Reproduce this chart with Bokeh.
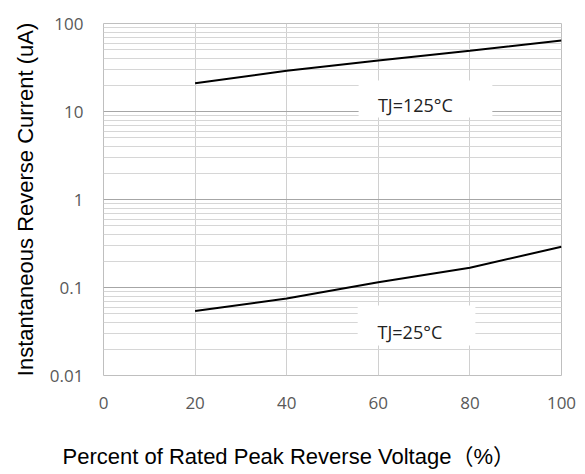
from bokeh.plotting import figure
from bokeh.models import FixedTicker, BoxAnnotation, Label, Title, LinearAxis
from bokeh.embed import file_html
from bokeh.resources import INLINE

# ---- data ----
voltage_pct = [20, 40, 60, 80, 100]
current_125c = [20.9, 29.0, 38.0, 49.0, 64.0]
current_25c = [0.054, 0.075, 0.115, 0.168, 0.29]

x_ticks = [0, 20, 40, 60, 80, 100]
y_ticks = [0.01, 0.1, 1, 10, 100]
y_tick_labels = ["0.01", "0.1", "1", "10", "100"]

label_125 = "TJ=125°C"
label_25 = "TJ=25°C"

x_title = "Percent of Rated Peak Reverse Voltage（%）"
y_title = "Instantaneous Reverse Current (uA)"

# ---- figure ----
p = figure(width=577, height=474, x_range=(0, 100), y_range=(0.01, 100),
           y_axis_type="log", output_backend="svg", toolbar_location=None,
           min_border_left=103, min_border_right=16, min_border_top=23,
           min_border_bottom=99)
p.background_fill_color = "white"
p.border_fill_color = "white"
p.outline_line_color = "#bfbfbf"
p.outline_line_width = 1

minor_y = [k * d for d in [0.01, 0.1, 1, 10] for k in range(2, 10)]

p.xaxis.ticker = FixedTicker(ticks=x_ticks)
p.yaxis.ticker = FixedTicker(ticks=y_ticks)
p.yaxis.major_label_overrides = {t: s for t, s in zip(y_ticks, y_tick_labels)}

p.xgrid.ticker = FixedTicker(ticks=x_ticks)
p.ygrid.ticker = FixedTicker(ticks=y_ticks, minor_ticks=minor_y)
p.xgrid.grid_line_color = "#d0d0d0"
p.ygrid.grid_line_color = "#a6a6a6"
p.ygrid.minor_grid_line_color = "#d6d6d6"
p.xgrid.grid_line_width = 1
p.ygrid.grid_line_width = 1

for ax in (p.xaxis[0], p.yaxis[0]):
    ax.axis_line_color = None
    ax.major_tick_line_color = None
    ax.minor_tick_line_color = None
    ax.major_tick_out = 0
    ax.major_tick_in = 0
    ax.minor_tick_out = 0
    ax.major_label_text_font = "Open Sans"
    ax.major_label_text_font_size = "17px"
    ax.major_label_text_color = "#595959"
    ax.axis_label_text_font = "Liberation Sans"
    ax.axis_label_text_font_size = "22px"
    ax.axis_label_text_font_style = "normal"
    ax.axis_label_text_color = "#000000"

p.yaxis.axis_label = y_title
p.xaxis.major_label_standoff = 21
p.yaxis.major_label_standoff = 20
p.yaxis.axis_label_standoff = 9

# spacer axis (white tick on white border): pushes the x title further down
spacer = LinearAxis(ticker=FixedTicker(ticks=[50]), axis_line_color=None,
                    major_tick_line_color="white", minor_tick_line_color=None,
                    major_tick_in=0, major_tick_out=28, minor_tick_out=0,
                    minor_tick_in=0, major_label_standoff=0,
                    major_label_text_font_size="1px",
                    major_label_overrides={50: ""})
p.add_layout(spacer, "below")

# x-axis title (left-shifted as in the reference)
p.add_layout(Title(text=x_title, align="left", offset=-41, standoff=4,
                   text_font="'Liberation Sans', 'Noto Sans CJK SC'",
                   text_font_size="22px", text_font_style="normal",
                   text_color="#000000"), "below")

p.line(voltage_pct, current_125c, line_color="black", line_width=2)
p.line(voltage_pct, current_25c, line_color="black", line_width=2)

# label boxes (white background behind text)
p.add_layout(BoxAnnotation(left=55.7, right=84.9, bottom=8.55, top=22.5,
                           fill_color="white", fill_alpha=1, line_color=None))
p.add_layout(BoxAnnotation(left=55.5, right=81.2, bottom=0.0219, top=0.0624,
                           fill_color="white", fill_alpha=1, line_color=None))
p.add_layout(Label(x=68.1, y=11.7, text=label_125, text_align="center",
                   text_baseline="middle", text_font="Open Sans",
                   text_font_size="18px", text_color="#222222"))
p.add_layout(Label(x=66.9, y=0.0316, text=label_25, text_align="center",
                   text_baseline="middle", text_font="Open Sans",
                   text_font_size="18px", text_color="#222222"))

open("out.html", "w").write(file_html(p, INLINE))
